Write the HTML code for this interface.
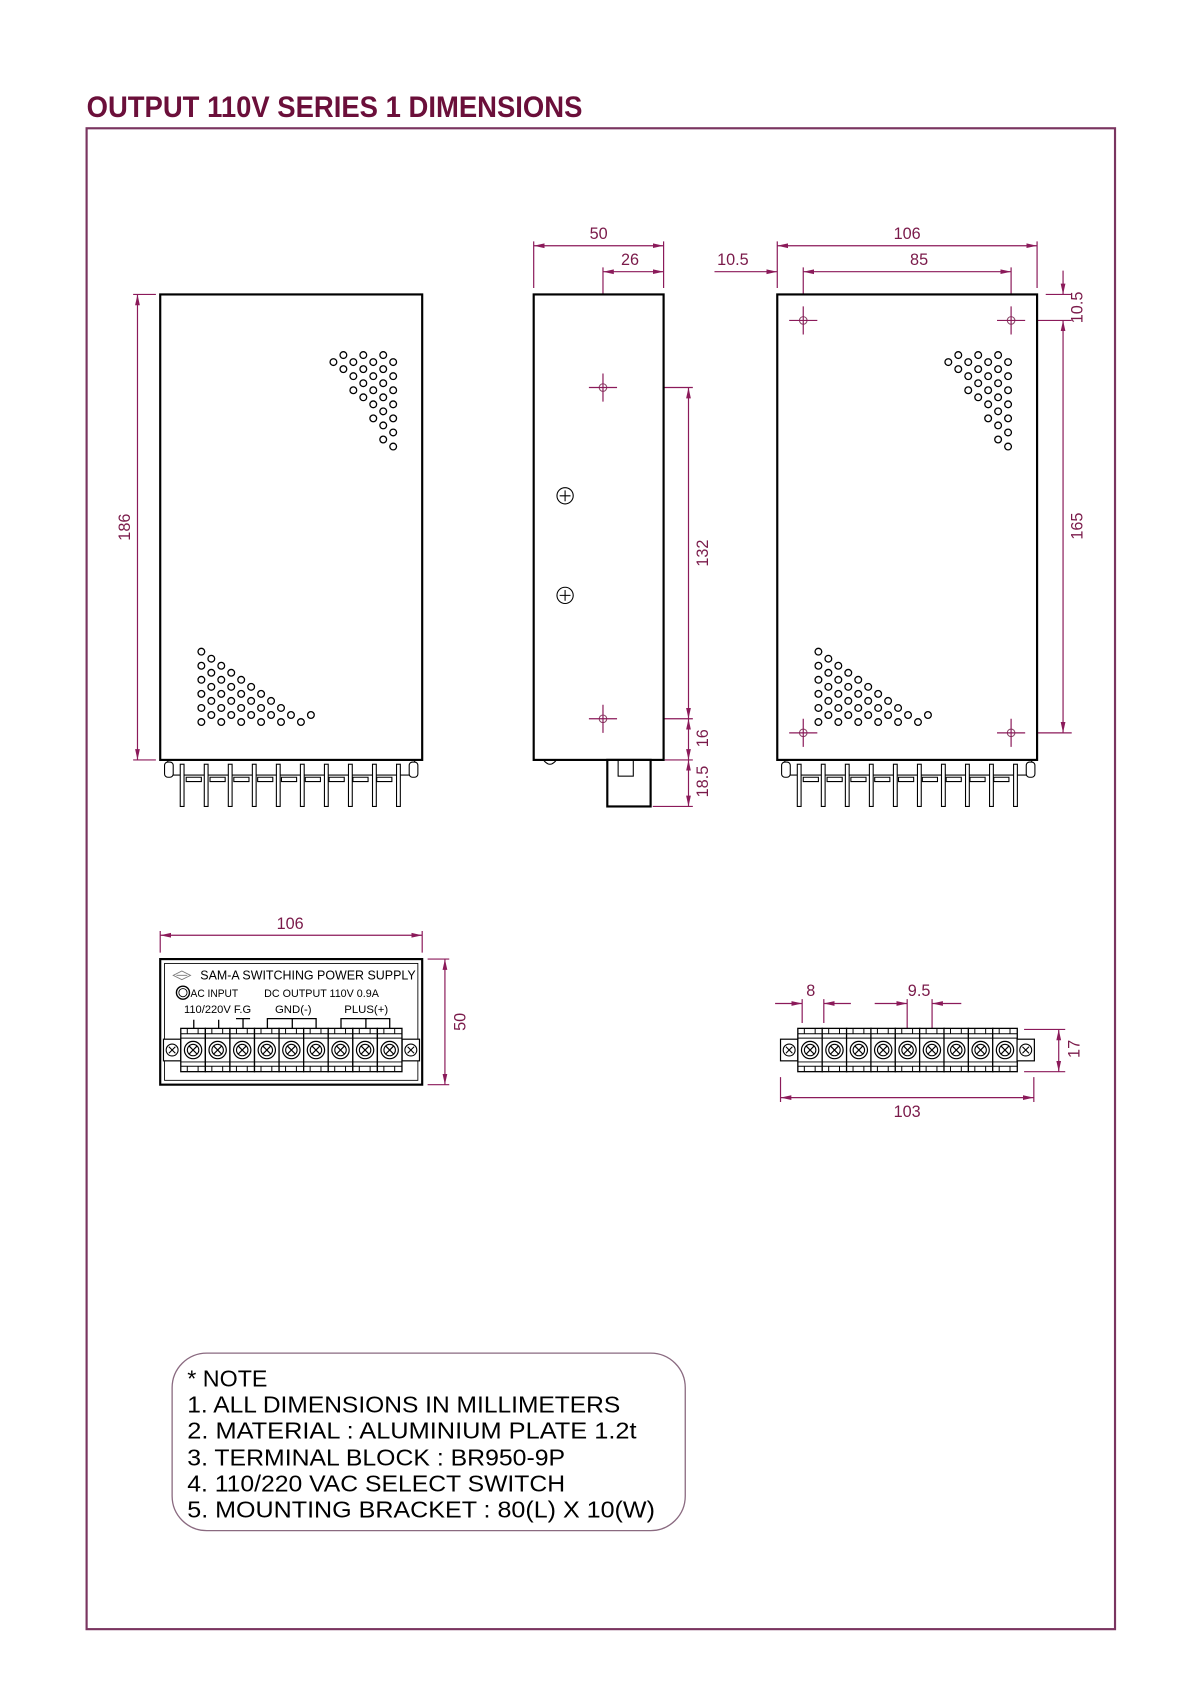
<!DOCTYPE html>
<html><head><meta charset="utf-8"><style>
html,body{margin:0;padding:0;background:#fff;}
svg{display:block;}
text{font-family:"Liberation Sans",sans-serif;}
</style></head><body>
<svg width="1200" height="1698" viewBox="0 0 1108.5 1568.6" preserveAspectRatio="none" xmlns="http://www.w3.org/2000/svg">
<defs>
<marker id="ar" markerWidth="10" markerHeight="6" refX="10" refY="3" orient="auto-start-reverse" markerUnits="userSpaceOnUse">
<path d="M0,0.8 L10,3 L0,5.2 Z" fill="#8b1a5a"/></marker>
<g id="ventA" fill="none" stroke="#000" stroke-width="1.2">
<circle cx="308" cy="334.5" r="3.1"/>
<circle cx="317.2" cy="328" r="3.1"/><circle cx="317.2" cy="341" r="3.1"/>
<circle cx="326.4" cy="334.5" r="3.1"/><circle cx="326.4" cy="347.5" r="3.1"/><circle cx="326.4" cy="360.5" r="3.1"/>
<circle cx="335.6" cy="328" r="3.1"/><circle cx="335.6" cy="341" r="3.1"/><circle cx="335.6" cy="354" r="3.1"/><circle cx="335.6" cy="367" r="3.1"/>
<circle cx="344.8" cy="334.5" r="3.1"/><circle cx="344.8" cy="347.5" r="3.1"/><circle cx="344.8" cy="360.5" r="3.1"/><circle cx="344.8" cy="373.5" r="3.1"/><circle cx="344.8" cy="386.5" r="3.1"/>
<circle cx="354" cy="328" r="3.1"/><circle cx="354" cy="341" r="3.1"/><circle cx="354" cy="354" r="3.1"/><circle cx="354" cy="367" r="3.1"/><circle cx="354" cy="380" r="3.1"/><circle cx="354" cy="393" r="3.1"/><circle cx="354" cy="406" r="3.1"/>
<circle cx="363.2" cy="334.5" r="3.1"/><circle cx="363.2" cy="347.5" r="3.1"/><circle cx="363.2" cy="360.5" r="3.1"/><circle cx="363.2" cy="373.5" r="3.1"/><circle cx="363.2" cy="386.5" r="3.1"/><circle cx="363.2" cy="399.5" r="3.1"/><circle cx="363.2" cy="412.5" r="3.1"/>
</g>
<g id="ventB" fill="none" stroke="#000" stroke-width="1.2">
<circle cx="186" cy="667" r="3.1"/><circle cx="186" cy="654" r="3.1"/><circle cx="186" cy="641" r="3.1"/><circle cx="186" cy="628" r="3.1"/><circle cx="186" cy="615" r="3.1"/><circle cx="186" cy="602" r="3.1"/>
<circle cx="195.2" cy="660.5" r="3.1"/><circle cx="195.2" cy="647.5" r="3.1"/><circle cx="195.2" cy="634.5" r="3.1"/><circle cx="195.2" cy="621.5" r="3.1"/><circle cx="195.2" cy="608.5" r="3.1"/>
<circle cx="204.4" cy="667" r="3.1"/><circle cx="204.4" cy="654" r="3.1"/><circle cx="204.4" cy="641" r="3.1"/><circle cx="204.4" cy="628" r="3.1"/><circle cx="204.4" cy="615" r="3.1"/>
<circle cx="213.6" cy="660.5" r="3.1"/><circle cx="213.6" cy="647.5" r="3.1"/><circle cx="213.6" cy="634.5" r="3.1"/><circle cx="213.6" cy="621.5" r="3.1"/>
<circle cx="222.8" cy="667" r="3.1"/><circle cx="222.8" cy="654" r="3.1"/><circle cx="222.8" cy="641" r="3.1"/><circle cx="222.8" cy="628" r="3.1"/>
<circle cx="232" cy="660.5" r="3.1"/><circle cx="232" cy="647.5" r="3.1"/><circle cx="232" cy="634.5" r="3.1"/>
<circle cx="241.2" cy="667" r="3.1"/><circle cx="241.2" cy="654" r="3.1"/><circle cx="241.2" cy="641" r="3.1"/>
<circle cx="250.4" cy="660.5" r="3.1"/><circle cx="250.4" cy="647.5" r="3.1"/>
<circle cx="259.6" cy="667" r="3.1"/><circle cx="259.6" cy="654" r="3.1"/>
<circle cx="268.8" cy="660.5" r="3.1"/>
<circle cx="278" cy="667" r="3.1"/>
<circle cx="287.2" cy="660.5" r="3.1"/>
</g>
<g id="pins">
<rect x="7" y="0" width="228" height="14" fill="none" stroke="#000" stroke-width="1"/>
<rect x="4" y="2" width="8" height="14" rx="3" fill="#fff" stroke="#000" stroke-width="1"/>
<rect x="230" y="2" width="8" height="14" rx="3" fill="#fff" stroke="#000" stroke-width="1"/>
<g fill="#fff" stroke="#000" stroke-width="1">
<rect x="18.5" y="4" width="3.5" height="39"/><rect x="40.7" y="4" width="3.5" height="39"/><rect x="62.9" y="4" width="3.5" height="39"/><rect x="85.1" y="4" width="3.5" height="39"/><rect x="107.3" y="4" width="3.5" height="39"/><rect x="129.5" y="4" width="3.5" height="39"/><rect x="151.7" y="4" width="3.5" height="39"/><rect x="173.9" y="4" width="3.5" height="39"/><rect x="196.1" y="4" width="3.5" height="39"/><rect x="218.3" y="4" width="3.5" height="39"/>
</g>
<g fill="none" stroke="#000" stroke-width="1">
<path d="M24,16 h14 v4 h-14 z M46,16 h14 v4 h-14 z M68,16 h14 v4 h-14 z M90,16 h14 v4 h-14 z M112,16 h14 v4 h-14 z M134,16 h14 v4 h-14 z M156,16 h14 v4 h-14 z M178,16 h14 v4 h-14 z M200,16 h14 v4 h-14 z"/>
</g>
</g>
<g id="cell">
<rect x="0" y="0" width="22.7" height="40" fill="#fff" stroke="#000" stroke-width="1.2"/>
<path d="M0,5 h22.7 M0,9 h22.7 M0,31 h22.7 M0,35 h22.7 M6,0 v5 M16,0 v5 M6,35 v5 M16,35 v5" stroke="#000" stroke-width="0.9"/>
<circle cx="11.35" cy="20" r="8" fill="#fff" stroke="#000" stroke-width="1.1"/>
<circle cx="11.35" cy="20" r="5.3" fill="none" stroke="#000" stroke-width="1"/>
<path d="M7.6,16.2 L15.1,23.8 M15.1,16.2 L7.6,23.8" stroke="#000" stroke-width="1.1"/>
</g>
<g id="tab">
<rect x="0" y="10" width="16" height="20" fill="#fff" stroke="#000" stroke-width="1.1"/>
<circle cx="8" cy="20" r="5.5" fill="none" stroke="#000" stroke-width="1"/>
<path d="M5,17 L11,23 M11,17 L5,23" stroke="#000" stroke-width="1"/>
</g>
<g id="cross">
<circle cx="0" cy="0" r="3.5" fill="none" stroke="#8a4a6a" stroke-width="1"/>
<path d="M-13,0 H13 M0,-13 V13" stroke="#8b1a5a" stroke-width="1.1"/>
</g>
</defs>

<!-- Title & frame -->
<text x="80" y="108" font-size="27" font-weight="bold" fill="#6b0f3a" textLength="458" lengthAdjust="spacingAndGlyphs">OUTPUT  110V  SERIES  1  DIMENSIONS</text>
<rect x="80" y="118.5" width="950" height="1386.5" fill="none" stroke="#7a3560" stroke-width="2"/>

<g stroke="#8b1a5a" stroke-width="1.1" fill="none">
<line x1="127" y1="272" x2="127" y2="702" marker-start="url(#ar)" marker-end="url(#ar)"/>
<path d="M123,272 H144 M123,702 H144"/>
<line x1="493" y1="227" x2="613" y2="227" marker-start="url(#ar)" marker-end="url(#ar)"/>
<path d="M493,223 V266 M613,223 V266"/>
<line x1="557" y1="251" x2="613" y2="251" marker-start="url(#ar)" marker-end="url(#ar)"/>
<path d="M557,247 V345"/>
<line x1="636" y1="358" x2="636" y2="664" marker-start="url(#ar)" marker-end="url(#ar)"/>
<path d="M574,358 H640 M574,664 H640"/>
<line x1="636" y1="664" x2="636" y2="702" marker-start="url(#ar)" marker-end="url(#ar)"/>
<line x1="636" y1="702" x2="636" y2="745" marker-start="url(#ar)" marker-end="url(#ar)"/>
<path d="M614,702 H640 M603,745 H640"/>
<line x1="718" y1="227" x2="958" y2="227" marker-start="url(#ar)" marker-end="url(#ar)"/>
<path d="M718,223 V266 M958,223 V266"/>
<line x1="742" y1="251" x2="934" y2="251" marker-start="url(#ar)" marker-end="url(#ar)"/>
<path d="M742,247 V283 M934,247 V283"/>
<line x1="660" y1="251" x2="718" y2="251" marker-end="url(#ar)"/>
<line x1="982" y1="250" x2="982" y2="272" marker-end="url(#ar)"/>
<line x1="982" y1="296" x2="982" y2="677" marker-start="url(#ar)" marker-end="url(#ar)"/>
<path d="M966,272 H990 M950,296 H990 M950,677 H990"/>
<path d="M826,615 H910"/>
<line x1="910" y1="615" x2="932" y2="672" marker-end="url(#ar)"/>
<line x1="148" y1="864" x2="390" y2="864" marker-start="url(#ar)" marker-end="url(#ar)"/>
<path d="M148,860 V880 M390,860 V880"/>
<line x1="411" y1="886" x2="411" y2="1002" marker-start="url(#ar)" marker-end="url(#ar)"/>
<path d="M395,886 H415 M395,1002 H415"/>
<line x1="716" y1="927" x2="741" y2="927" marker-end="url(#ar)"/>
<line x1="786" y1="927" x2="761" y2="927" marker-end="url(#ar)"/>
<path d="M741,923 V945 M761,923 V945"/>
<line x1="808" y1="927" x2="838" y2="927" marker-end="url(#ar)"/>
<line x1="888" y1="927" x2="861" y2="927" marker-end="url(#ar)"/>
<path d="M838,923 V958 M861,923 V958"/>
<line x1="978" y1="951" x2="978" y2="990" marker-start="url(#ar)" marker-end="url(#ar)"/>
<path d="M946,951 H984 M946,990 H984"/>
<line x1="721" y1="1014" x2="955" y2="1014" marker-start="url(#ar)" marker-end="url(#ar)"/>
<path d="M721,995 V1018 M955,995 V1018"/>
</g>

<g fill="#7a1a4a" font-size="15" text-anchor="middle">
<text x="553" y="221">50</text>
<text x="582" y="245">26</text>
<text x="838" y="221">106</text>
<text x="849" y="245">85</text>
<text x="677" y="245">10.5</text>
<text x="268" y="858">106</text>
<text x="749" y="920">8</text>
<text x="849" y="920">9.5</text>
<text x="838" y="1032">103</text>
<text x="854" y="592" font-size="14.5">Mounting Hole</text>
<text x="863" y="612" font-size="14.5">(6-M3 Taps)</text>
<text transform="translate(120,487) rotate(-90)">186</text>
<text transform="translate(654,511) rotate(-90)">132</text>
<text transform="translate(654,682) rotate(-90)">16</text>
<text transform="translate(654,722) rotate(-90)">18.5</text>
<text transform="translate(1000,284) rotate(-90)">10.5</text>
<text transform="translate(1000,486) rotate(-90)">165</text>
<text transform="translate(430,944) rotate(-90)">50</text>
<text transform="translate(997,969) rotate(-90)">17</text>
</g>

<!-- FRONT VIEW -->
<rect x="148" y="272" width="242" height="430" fill="#fff" stroke="#000" stroke-width="2"/>
<use href="#ventA"/>
<use href="#ventB"/>
<use href="#pins" x="148" y="702"/>

<!-- SIDE VIEW -->
<rect x="493" y="272" width="120" height="430" fill="#fff" stroke="#000" stroke-width="2"/>
<g fill="none" stroke="#000" stroke-width="1">
<circle cx="522" cy="458" r="7.5"/><path d="M517,458 h10 M522,453 v10"/>
<circle cx="522" cy="550" r="7.5"/><path d="M517,550 h10 M522,545 v10"/>
</g>
<use href="#cross" x="557" y="358"/>
<use href="#cross" x="557" y="664"/>
<rect x="561" y="702" width="40" height="43" fill="#fff" stroke="#000" stroke-width="2"/>
<rect x="571" y="702" width="14" height="15" fill="none" stroke="#000" stroke-width="1"/>
<path d="M502,702 q6,8 12,0" fill="none" stroke="#000" stroke-width="1"/>

<!-- RIGHT VIEW -->
<rect x="718" y="272" width="240" height="430" fill="#fff" stroke="#000" stroke-width="2"/>
<use href="#ventA" x="568"/>
<use href="#ventB" x="570"/>
<use href="#cross" x="742" y="296"/>
<use href="#cross" x="934" y="296"/>
<use href="#cross" x="742" y="677"/>
<use href="#cross" x="934" y="677"/>
<use href="#pins" x="718" y="702"/>

<!-- PANEL VIEW -->
<rect x="148" y="886" width="242" height="116" fill="#fff" stroke="#000" stroke-width="2"/>
<rect x="152" y="890" width="234" height="108" fill="none" stroke="#000" stroke-width="0.8"/>
<g font-size="11.5" fill="#000">
<path d="M160,901 l8,-4 l8,4 l-8,4 z M163,901 h10" fill="none" stroke="#777" stroke-width="0.8"/>
<text x="185" y="905">SAM-A SWITCHING POWER SUPPLY</text>
<circle cx="169" cy="917" r="6" fill="none" stroke="#000" stroke-width="1.3"/>
<circle cx="169" cy="917" r="3.8" fill="none" stroke="#000" stroke-width="0.8"/>
<text x="176" y="921" font-size="10.5" textLength="44" lengthAdjust="spacingAndGlyphs">AC INPUT</text>
<text x="244" y="921" font-size="10.5" textLength="106" lengthAdjust="spacingAndGlyphs">DC OUTPUT  110V 0.9A</text>
<text x="170" y="936" font-size="10.5" textLength="62" lengthAdjust="spacingAndGlyphs">110/220V F.G</text>
<text x="254" y="936" font-size="10.5">GND(-)</text>
<text x="318" y="936" font-size="10.5">PLUS(+)</text>
</g>
<path d="M179,942 V951 M202,942 V951 M218,941 H231 M224.5,941 V951 M247,951 V941 H292 V951 M270,941 V951 M315,951 V941 H360 V951 M338,941 V951" fill="none" stroke="#000" stroke-width="1.2"/>
<use href="#tab" x="151" y="950"/>
<use href="#cell" x="167" y="950"/><use href="#cell" x="189.7" y="950"/><use href="#cell" x="212.4" y="950"/><use href="#cell" x="235.1" y="950"/><use href="#cell" x="257.8" y="950"/><use href="#cell" x="280.5" y="950"/><use href="#cell" x="303.2" y="950"/><use href="#cell" x="325.9" y="950"/><use href="#cell" x="348.6" y="950"/>
<use href="#tab" x="371.5" y="950"/>

<!-- STRIP VIEW -->
<use href="#tab" x="721" y="950"/>
<use href="#cell" x="737" y="950"/><use href="#cell" x="759.5" y="950"/><use href="#cell" x="782" y="950"/><use href="#cell" x="804.5" y="950"/><use href="#cell" x="827" y="950"/><use href="#cell" x="849.5" y="950"/><use href="#cell" x="872" y="950"/><use href="#cell" x="894.5" y="950"/><use href="#cell" x="917" y="950"/>
<use href="#tab" x="939.5" y="950"/>

<!-- NOTE -->
<rect x="159" y="1250" width="474" height="164" rx="32" ry="32" fill="none" stroke="#8a6a80" stroke-width="1.2"/>
<g font-size="21.5" fill="#000">
<text x="173" y="1281">*  NOTE</text>
<text x="173" y="1305" textLength="400" lengthAdjust="spacingAndGlyphs">1.  ALL  DIMENSIONS  IN  MILLIMETERS</text>
<text x="173" y="1329" textLength="415" lengthAdjust="spacingAndGlyphs">2.  MATERIAL  :  ALUMINIUM  PLATE  1.2t</text>
<text x="173" y="1354" textLength="349" lengthAdjust="spacingAndGlyphs">3.  TERMINAL  BLOCK  :  BR950-9P</text>
<text x="173" y="1378" textLength="349" lengthAdjust="spacingAndGlyphs">4.  110/220  VAC  SELECT  SWITCH</text>
<text x="173" y="1402" textLength="432" lengthAdjust="spacingAndGlyphs">5.  MOUNTING  BRACKET  :  80(L)  X  10(W)</text>
</g>
</svg>
</body></html>
